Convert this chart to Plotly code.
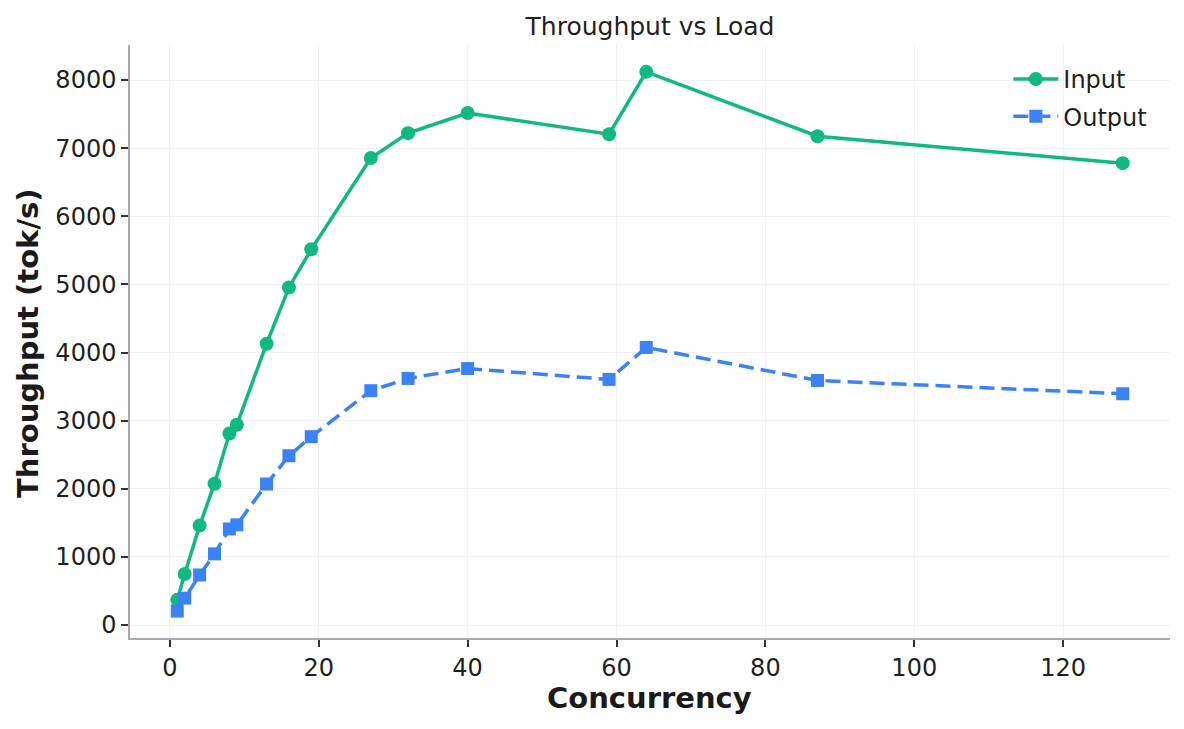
import plotly.graph_objects as go

concurrency = [1, 2, 4, 6, 8, 9, 13, 16, 19, 27, 32, 40, 59, 64, 87, 128]
input_tps = [370, 750, 1460, 2075, 2810, 2940, 4130, 4955, 5515, 6855, 7220, 7515, 7205, 8120, 7175, 6780]
output_tps = [205, 395, 735, 1045, 1410, 1470, 2070, 2485, 2765, 3440, 3620, 3765, 3605, 4075, 3590, 3395]

x_ticks = [0, 20, 40, 60, 80, 100, 120]
y_ticks = [0, 1000, 2000, 3000, 4000, 5000, 6000, 7000, 8000]

GREEN = "#10b981"
BLUE = "#3b82f6"
FONT = "DejaVu Sans"
TXT = "#1f1f1f"

fig = go.Figure()
fig.add_trace(go.Scatter(
    x=concurrency, y=input_tps, name="Input", mode="lines+markers",
    legendgroup="a",
    line=dict(color=GREEN, width=3.5),
    marker=dict(symbol="circle", size=14, color=GREEN),
))
fig.add_trace(go.Scatter(
    x=concurrency, y=output_tps, name="Output", mode="lines+markers",
    legendgroup="b",
    line=dict(color=BLUE, width=3.5, dash="15px,7px"),
    marker=dict(symbol="square", size=13, color=BLUE),
))

axis_common = dict(
    showgrid=True, gridcolor="#f2f2f2", gridwidth=1,
    showline=True, linecolor="#a8a8b0", linewidth=1.5, mirror=False,
    ticks="outside", ticklen=7, tickwidth=1.5, tickcolor="#333333",
    zeroline=False, tickfont=dict(family=FONT, size=24, color=TXT),
    automargin=False,
)

fig.update_layout(
    width=1184, height=729,
    paper_bgcolor="white", plot_bgcolor="white",
    margin=dict(l=130, r=14, t=45, b=91, autoexpand=False),
    font=dict(family=FONT, size=24, color=TXT),
    title=dict(text="Throughput vs Load", x=650 / 1184, xanchor="center",
               y=1 - 26 / 729, yanchor="middle",
               font=dict(family=FONT, size=25, color=TXT)),
    showlegend=True,
    legend=dict(x=0.983, y=0.980, xanchor="right", yanchor="top",
                bgcolor="rgba(0,0,0,0)", borderwidth=0,
                font=dict(family=FONT, size=24, color=TXT),
                tracegroupgap=3, itemwidth=45),
    xaxis=dict(range=[-5.35, 134.35], tickvals=x_ticks,
               ticktext=[str(v) for v in x_ticks], **axis_common),
    yaxis=dict(range=[-190, 8514], tickvals=y_ticks,
               ticktext=[str(v) for v in y_ticks], **axis_common),
    annotations=[
        dict(text="<b>Concurrency</b>", xref="paper", yref="paper",
             x=(649 - 130) / 1040, y=(638 - 698) / 593,
             xanchor="center", yanchor="middle", showarrow=False,
             font=dict(family=FONT, size=29, color="#1a1a1a")),
        dict(text="<b>Throughput (tok/s)</b>", xref="paper", yref="paper",
             x=(28 - 130) / 1040, y=(638 - 343) / 593, textangle=-90,
             xanchor="center", yanchor="middle", showarrow=False,
             font=dict(family=FONT, size=29, color="#1a1a1a")),
    ],
)

fig.write_html("out.html", config={"displayModeBar": False},
               post_script="document.body.style.margin='0px';")
